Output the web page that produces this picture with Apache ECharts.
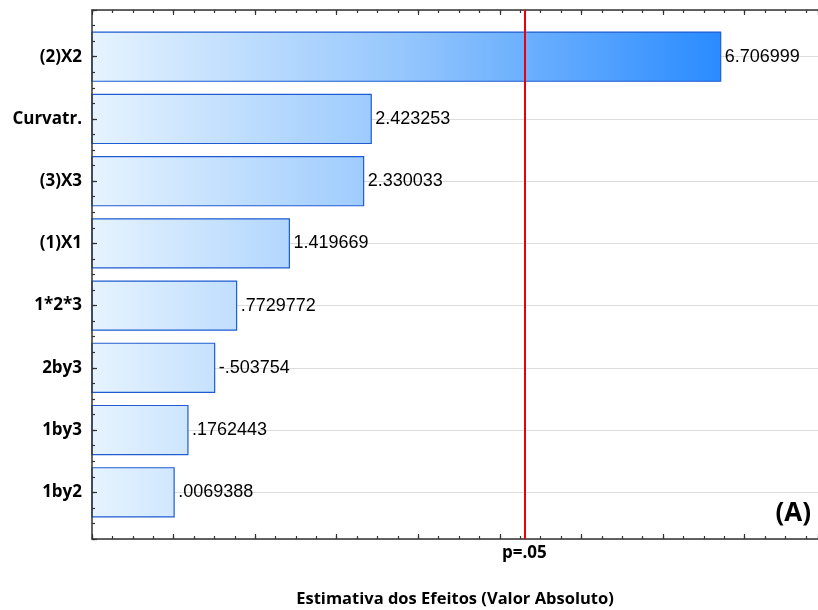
<!DOCTYPE html>
<html>
<head>
<meta charset="utf-8">
<script src="https://cdn.jsdelivr.net/npm/echarts@6/dist/echarts.min.js"></script>
<style>
  html, body { margin: 0; padding: 0; background: #fff; }
  #chart { width: 818px; height: 610px; }
</style>
</head>
<body>
<div id="chart"></div>
<script>
// Pareto chart of standardized effects
const factors = ['(2)X2', 'Curvatr.', '(3)X3', '(1)X1', '1*2*3', '2by3', '1by3', '1by2'];
const effects = [6.706999, 2.423253, 2.330033, 1.419669, 0.7729772, -0.503754, 0.1762443, 0.0069388];
const pCritical = 4.303;
const pLabel = 'p=.05';
const xTitle = 'Estimativa dos Efeitos (Valor Absoluto)';
const panelTag = '(A)';

const X_MIN = -1, X_MAX = 7.9;
const Y_MIN = -0.75, Y_MAX = 7.75;
const FONT = '"Open Sans", "DejaVu Sans", sans-serif';
const AXIS_COLOR = '#333';

// Statistica-style numbers: drop the leading zero ("0.77" -> ".77")
function fmt(v) {
  return String(v).replace(/^(-?)0\./, '$1.');
}

const maxEffect = Math.max(...effects.map(Math.abs));
const barData = effects.map((v, i) => [Math.abs(v), i, v]);

const chart = echarts.init(document.getElementById('chart'), null, { renderer: 'canvas' });

function xAxisDef(position, interval, tickLen, showLine) {
  return {
    type: 'value', position, min: X_MIN, max: X_MAX, interval,
    axisLine: { show: showLine, onZero: false, lineStyle: { color: AXIS_COLOR, width: 1.5 } },
    axisTick: { show: true, inside: true, length: tickLen, lineStyle: { color: AXIS_COLOR, width: 1.2 } },
    axisLabel: { show: false },
    splitLine: { show: false }
  };
}

const hiddenLabel = { show: false };

chart.setOption({
  animation: false,
  backgroundColor: '#fff',
  title: {
    text: panelTag, right: 2, top: 496,
    textStyle: { fontFamily: FONT, fontWeight: 'bold', fontSize: 26, color: '#000' }
  },
  grid: { left: 92, right: 0, top: 10, bottom: 71, containLabel: false, outerBoundsMode: 'none' },
  xAxis: [
    Object.assign(xAxisDef('bottom', 1, 5, true), {
      name: xTitle, nameLocation: 'middle', nameGap: 52,
      nameTextStyle: { fontFamily: FONT, fontWeight: 'bold', fontSize: 16.5, color: '#000' }
    }),
    xAxisDef('bottom', 0.25, 3, false),
    xAxisDef('top', 1, 5, true),
    xAxisDef('top', 0.25, 3, false)
  ],
  yAxis: [
    // horizontal grid lines at each factor, behind the bars
    {
      type: 'value', position: 'left', inverse: true, min: Y_MIN, max: Y_MAX, splitNumber: 8,
      axisLine: { show: false, onZero: false },
      axisTick: { show: false },
      axisLabel: hiddenLabel,
      splitLine: { show: true, lineStyle: { color: '#dcdcdc', width: 1 } }
    },
    // axis line, quarter ticks and factor names, drawn over the bars
    {
      type: 'value', position: 'left', inverse: true, min: Y_MIN, max: Y_MAX, interval: 0.25, z: 5,
      axisLine: { show: true, onZero: false, lineStyle: { color: AXIS_COLOR, width: 1.5 } },
      axisTick: { show: true, inside: true, length: 3, lineStyle: { color: AXIS_COLOR, width: 1.2 } },
      axisLabel: {
        margin: 10, fontFamily: FONT, fontWeight: 'bold', fontSize: 17, color: '#000',
        formatter: v => (Number.isInteger(v) && factors[v] !== undefined) ? factors[v] : ''
      },
      splitLine: { show: false }
    },
    // longer ticks at each factor
    {
      type: 'value', position: 'left', inverse: true, min: Y_MIN, max: Y_MAX, splitNumber: 8, z: 5,
      axisLine: { show: false, onZero: false },
      axisTick: { show: true, inside: true, length: 5, lineStyle: { color: AXIS_COLOR, width: 1.2 } },
      axisLabel: hiddenLabel,
      splitLine: { show: false }
    }
  ],
  series: [
    {
      type: 'custom',
      xAxisIndex: 0, yAxisIndex: 0,
      data: barData,
      encode: { x: 0, y: 1 },
      clip: false,
      renderItem(params, api) {
        const len = api.value(0);
        const idx = api.value(1);
        const signed = api.value(2);
        const p0 = api.coord([X_MIN, idx]);
        const p1 = api.coord([len, idx]);
        const h = api.size([0, 1])[1] * 0.79;
        const g0 = api.coord([X_MIN, 0])[0];
        const g1 = api.coord([maxEffect, 0])[0];
        const fill = new echarts.graphic.LinearGradient(g0, 0, g1, 0, [
          { offset: 0, color: '#e6f3fe' },
          { offset: 0.5, color: '#94c6fd' },
          { offset: 1, color: '#2a8bff' }
        ], true);
        return {
          type: 'group',
          children: [
            {
              type: 'rect',
              shape: { x: p0[0], y: p0[1] - h / 2, width: p1[0] - p0[0], height: h },
              style: { fill, stroke: '#1f5cd1', lineWidth: 1.2 }
            },
            {
              type: 'text',
              x: p1[0] + 4, y: p1[1],
              style: {
                text: fmt(signed), fill: '#000',
                font: '18px "Liberation Sans", Arial, sans-serif',
                verticalAlign: 'middle', align: 'left'
              }
            }
          ]
        };
      },
      markLine: {
        silent: true,
        symbol: 'none',
        lineStyle: { color: '#e8000b', width: 2, type: 'solid' },
        label: {
          show: true, position: 'end', distance: 6,
          formatter: pLabel,
          fontFamily: FONT, fontWeight: 'bold', fontSize: 17, color: '#000'
        },
        data: [{ xAxis: pCritical }]
      }
    }
  ]
});
</script>
</body>
</html>
